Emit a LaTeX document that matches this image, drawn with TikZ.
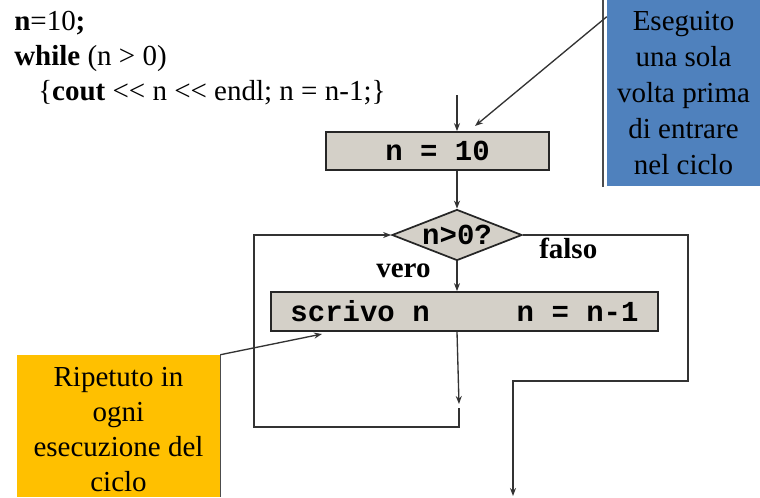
\documentclass[tikz,border=0pt]{standalone}
\usepackage{fontspec}
\setmainfont{Liberation Serif}
\setmonofont{Liberation Mono}
\usetikzlibrary{shapes.geometric,arrows.meta}
\definecolor{boxgray}{HTML}{D4D0C8}
\definecolor{noteblue}{HTML}{4F81BD}
\definecolor{noteorange}{HTML}{FFC000}
\definecolor{linegray}{HTML}{333333}
\begin{document}
\begin{tikzpicture}[x=0.75pt,y=-0.75pt,
  txt/.style={font=\fontsize{21.75}{26.25}\selectfont, inner sep=0pt},
  conn/.style={draw=linegray, line width=1pt},
  arr/.style={conn, -{Stealth[length=6pt,width=4.5pt]}},
  shadowline/.style={draw=black!70, line width=1.3pt},
  procbox/.style={draw=black!85, line width=1.3pt, fill=boxgray, inner sep=0pt,
    font=\ttfamily\bfseries\fontsize{21.75}{24}\selectfont},
  ]
\useasboundingbox (0,0) rectangle (760,497);

% code text
\node[txt, anchor=base west] (code1) at (14,30) {\textbf{n}=10\textbf{;}};
\node[txt, anchor=base west] (code2) at (14,65) {\textbf{while} (n > 0)};
\node[txt, anchor=base west] (code3) at (38,100) {\{\textbf{cout} <{}< n <{}< endl; n = n-1;\}};

% blue note
\draw[shadowline] (603,0) -- (603,187);
\node[txt, fill=noteblue, minimum width=114.75pt, minimum height=139.5pt, align=center,
  font=\fontsize{21.75}{27}\selectfont] (blue) at (683.5,93)
  {Eseguito\\una sola\\volta prima\\di entrare\\nel ciclo};

% orange note
\node[fill=noteorange, minimum width=152.25pt, minimum height=106.5pt, inner sep=0pt] (orange) at (118.5,426) {};
\draw[shadowline] (220.5,355) -- (220.5,497);
\node[txt, align=center] (orangetxt) at (118.5,430)
  {Ripetuto in\\ogni\\esecuzione del\\ciclo};

% flowchart
\node[procbox, minimum width=167.25pt, minimum height=28.5pt] (n10) at (437.5,151) {n = 10};
\node[diamond, draw=black!85, line width=1.3pt, fill=boxgray, minimum width=97.5pt,
  minimum height=38.25pt, aspect=2.55, inner sep=0pt,
  font=\ttfamily\bfseries\fontsize{21.75}{24}\selectfont] (dia) at (457,235) {n>0?};
\node[procbox, minimum width=290.25pt, minimum height=29.25pt] (seq) at (464.5,311.5)
  {scrivo n\hspace{3em}n = n-1};

\node[txt, font=\bfseries\fontsize{21.75}{26}\selectfont, anchor=base west] (falso) at (539,258) {falso};
\node[txt, font=\bfseries\fontsize{21.75}{26}\selectfont, anchor=base west] (vero) at (376,277) {vero};

% connectors
\coordinate (entry) at (457,95);
\draw[arr] (entry) -- (entry |- n10.north);
\draw[arr] (n10.south -| dia.north) -- (dia.north);
\draw[arr] (dia.south) -- (dia.south |- seq.north);
\coordinate (loopend) at (459,404);
\draw[arr] (seq.south -| dia.south) -- (loopend);
\coordinate (loopstart) at (459,408);
\coordinate (loopleft) at (254,427);
\draw[arr] (loopstart) |- (loopleft) |- (dia.west);
\coordinate (exitright) at (688,381);
\coordinate (exitend) at (513,496);
\draw[arr] (dia.east) -| (exitright) -| (exitend);

% callouts
\coordinate (bluetip) at (475,126);
\draw[arr] ([yshift=-12.75pt]blue.north west) -- (bluetip);
\coordinate (orangetip) at (322,334);
\draw[arr] (orange.north east) -- (orangetip);
\end{tikzpicture}
\end{document}
